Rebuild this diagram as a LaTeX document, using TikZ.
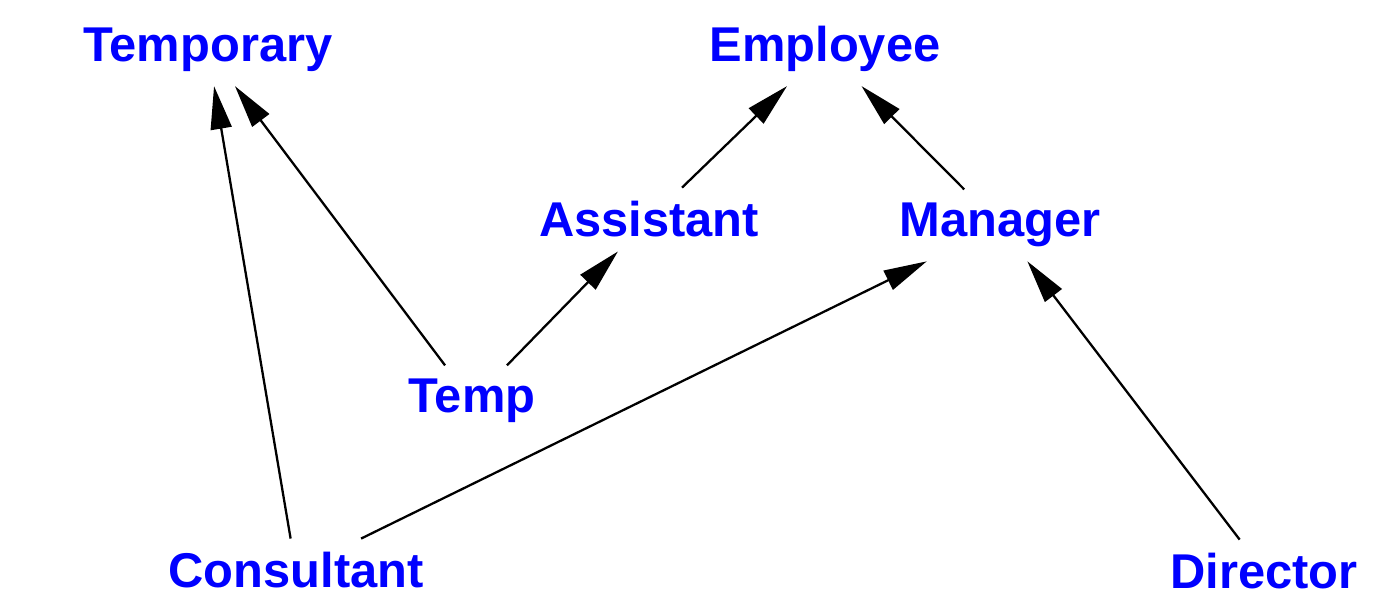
\documentclass[tikz,border=0pt]{standalone}
\usepackage{fontspec}
\setmainfont{Liberation Sans}
\usetikzlibrary{arrows.meta}
\begin{document}
\begin{tikzpicture}[>={Triangle[length=0.86cm,width=0.42cm]},
    cls/.style={anchor=base,inner sep=0pt,outer sep=0.28cm,text=blue,
      font=\fontsize{27.8}{30}\selectfont\bfseries},
    every path/.style={line width=1.3pt}]
      \useasboundingbox (0,0) rectangle (27.5,12.28);
      \node[cls] (temporary) at (4.16,11.04) {Temporary};
      \node[cls] (employee) at (16.5,11.04) {Employee};
      \node[cls] (assistant) at (12.98,7.54) {Assistant};
      \node[cls] (manager) at (20,7.54) {Manager};
      \node[cls] (temp) at (9.44,4.02) {Temp};
      \node[cls] (consultant) at (5.92,0.52) {Consultant};
      \node[cls] (director) at (25.28,0.5) {Director};
      \draw [->] (consultant) -- (temporary);
      \draw [->] (temp) -- (temporary);
      \draw [->] (temp) -- (assistant);
      \draw [->] (assistant) -- (employee);
      \draw [->] (manager) -- (employee);
      \draw [->] (consultant) -- (manager);
      \draw [->] (director) -- (manager);
    \end{tikzpicture}
\end{document}
